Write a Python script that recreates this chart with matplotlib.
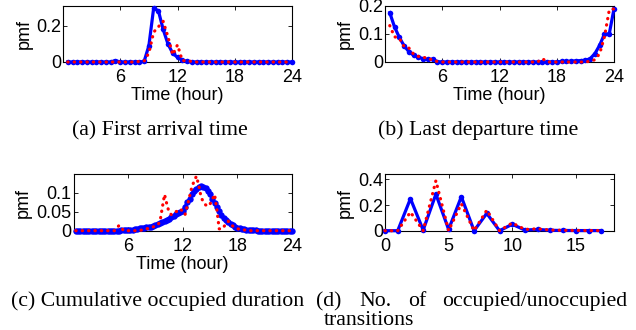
import numpy as np
import matplotlib
matplotlib.use('Agg')
import matplotlib.pyplot as plt

plt.rcParams['font.family'] = ['Liberation Sans', 'DejaVu Sans']

# ---------------- data ----------------
# (a) first arrival time, half-hour bins 0.5..24
hours_a = np.arange(1, 49) * 0.5
blue_a = [0, 0, 0, 0, 0, 0, 0, 0, 0, 0,
          0.008, 0, 0, 0, 0, 0, 0.003, 0.09, 0.298, 0.283,
          0.18, 0.10, 0.048, 0.026, 0.01, 0.003, 0, 0, 0, 0,
          0, 0, 0, 0, 0, 0, 0, 0, 0, 0,
          0, 0, 0, 0, 0, 0, 0, 0]
red_a = [0, 0, 0, 0, 0, 0, 0, 0, 0, 0,
         0, 0, 0, 0, 0, 0.003, 0.005, 0.05, 0.165, 0.195,
         0.225, 0.14, 0.04, 0.095, 0.008, 0.006, 0.003, 0, 0, 0,
         0, 0, 0, 0, 0, 0, 0, 0, 0, 0,
         0, 0, 0, 0, 0, 0, 0, 0]

# (b) last departure time, half-hour bins 0.5..24
hours_b = np.arange(1, 49) * 0.5
blue_b = [0.176, 0.125, 0.088, 0.058, 0.037, 0.024, 0.017, 0.012, 0.009, 0.01,
          0.001, 0, 0, 0, 0, 0, 0, 0, 0, 0,
          0, 0, 0, 0, 0, 0, 0, 0, 0, 0,
          0, 0, 0, 0, 0, 0, 0.002, 0.002, 0.003, 0.004,
          0.005, 0.006, 0.012, 0.03, 0.06, 0.1, 0.1, 0.19]
red_b = [0.13, 0.09, 0.085, 0.055, 0.05, 0.028, 0.02, 0.016, 0.015, 0.005,
         0.002, 0, 0, 0, 0, 0, 0, 0, 0, 0,
         0, 0, 0, 0, 0, 0, 0, 0, 0, 0,
         0, 0, 0.012, 0, 0, 0, 0, 0, 0, 0,
         0, 0, 0.003, 0.008, 0.03, 0.09, 0.185, 0.19]

# (c) cumulative occupied duration, 15-minute bins 0.25..24
hours_c = np.arange(1, 97) * 0.25
blue_c = [0, 0, 0, 0,  0, 0, 0, 0,  0, 0, 0, 0,  0, 0, 0, 0,
          0, 0, 0, 0,
          0.001, 0.001, 0.001, 0.002,
          0.002, 0.003, 0.004, 0.005,
          0.006, 0.007, 0.008, 0.009,
          0.010, 0.011, 0.013, 0.015,
          0.017, 0.019, 0.022, 0.025,
          0.029, 0.032, 0.036, 0.039,
          0.043, 0.047, 0.050, 0.052,
          0.062, 0.075, 0.082, 0.095,
          0.105, 0.110, 0.114, 0.116,
          0.115, 0.112, 0.104, 0.095,
          0.084, 0.073, 0.062, 0.051,
          0.040, 0.033, 0.027, 0.022,
          0.017, 0.014, 0.011, 0.008,
          0.006, 0.005, 0.004, 0.003,
          0.002, 0.002, 0.001, 0.001,
          0, 0, 0, 0,  0, 0, 0, 0,  0, 0, 0, 0,  0, 0, 0, 0]
red_c = [0, 0, 0, 0,  0, 0, 0, 0,  0, 0, 0, 0,  0, 0, 0, 0,
         0, 0, 0.006, 0.014,
         0.008, 0, 0, 0,
         0, 0, 0, 0,
         0, 0.002, 0.003, 0.005,
         0.006, 0.008, 0.010, 0.012,
         0.015, 0.024, 0.06, 0.095,
         0.07, 0.048, 0.042, 0.045,
         0.05, 0.052, 0.057, 0.05,
         0.042, 0.065, 0.09, 0.115,
         0.13, 0.143, 0.12, 0.09,
         0.075, 0.068, 0.064, 0.07,
         0.082, 0.095, 0.055, 0.005,
         0.004, 0.01, 0.018, 0.025,
         0.018, 0.012, 0.008, 0.005,
         0.004, 0.003, 0.002, 0.001,
         0, 0, 0, 0,
         0, 0, 0, 0,  0, 0, 0, 0,  0, 0, 0, 0,  0, 0, 0, 0]

# (d) number of occupied/unoccupied transitions
trans_d = np.arange(0, 18)
blue_d = [0, 0, 0.25, 0.005, 0.285, 0.01, 0.265, 0.0, 0.135, 0.0,
          0.05, 0.005, 0.01, 0.003, 0.002, 0.001, 0.001, 0.001]
red_d = [0, 0, 0.145, 0.0, 0.39, 0.0, 0.21, 0.0, 0.16, 0.0,
         0.06, 0.01, 0.015, 0.005, 0.003, 0.002, 0.001, 0.001]

captions = ['(a) First arrival time', '(b) Last departure time',
            '(c) Cumulative occupied duration']

# ---------------- figure ----------------
W, H = 636, 330
fig = plt.figure(figsize=(W / 100, H / 100), dpi=100)


def ax_at(l, t, r, b):
    return fig.add_axes([l / W, 1 - b / H, (r - l) / W, (b - t) / H])


FS = 13


def draw(ax, x, blue, red, ms=4.0):
    ax.plot(x, blue, '-', color=(0, 0, 1), lw=2.3, marker='o', ms=ms,
            mec='none', mfc=(0, 0, 1), clip_on=False, zorder=3)
    ax.plot(x, red, color=(1, 0, 0), lw=2.3, linestyle=(0, (0.1, 1.9)),
            dash_capstyle='round', clip_on=False, zorder=4)


def style(ax, xlim, ylim, xticks, xtl, yticks, ytl, ylab_x, xlabel=True):
    ax.set_xlim(xlim)
    ax.set_ylim(ylim)
    ax.set_xticks(xticks)
    ax.set_xticklabels(xtl)
    ax.set_yticks(yticks)
    ax.set_yticklabels(ytl)
    ax.tick_params(direction='in', length=3, width=0.6, top=True, right=True,
                   labelsize=FS)
    ax.tick_params(axis='x', pad=5)
    ax.tick_params(axis='y', pad=1.5)
    for s in ax.spines.values():
        s.set_linewidth(0.8)
    ax.set_ylabel('pmf', fontsize=FS)
    ax.yaxis.set_label_coords(ylab_x, 0.5)
    if xlabel:
        ax.set_xlabel('Time (hour)', fontsize=FS)
        ax.xaxis.set_label_coords(0.5, -0.44)
        ax.xaxis.label.set_va('top')


ax_a = ax_at(63, 6, 292, 62)
draw(ax_a, hours_a, blue_a, red_a)
style(ax_a, (0, 24), (0, 0.31), [6, 12, 18, 24], ['6', '12', '18', '24'],
      [0, 0.2], ['0', '0.2'], -0.131)

ax_b = ax_at(385, 6, 614, 62)
draw(ax_b, hours_b, blue_b, red_b)
style(ax_b, (0, 24), (0, 0.2), [6, 12, 18, 24], ['6', '12', '18', '24'],
      [0, 0.1, 0.2], ['0', '0.1', '0.2'], -0.135)

ax_c = ax_at(73.5, 174.3, 292, 230.7)
draw(ax_c, hours_c, blue_c, red_c, ms=4.6)
style(ax_c, (0, 24), (0, 0.148), [6, 12, 18, 24], ['6', '12', '18', '24'],
      [0, 0.05, 0.1], ['0', '0.05', '0.1'], -0.19)

ax_d = ax_at(385, 174.3, 614, 230.7)
draw(ax_d, trans_d, blue_d, red_d)
style(ax_d, (0, 18), (0, 0.44), [0, 5, 10, 15], ['0', '5', '10', '15'],
      [0, 0.2, 0.4], ['0', '0.2', '0.4'], -0.135, xlabel=False)

CFS = 15.7
serif = ['Liberation Serif', 'DejaVu Serif']


def cap(x, y, s, ha='center'):
    fig.text(x / W, 1 - y / H, s, ha=ha, va='baseline', fontsize=CFS,
             family=serif)


cap(160, 135, captions[0])
cap(478, 135, captions[1])
cap(158, 306, captions[2])
cap(316, 306, '(d)', ha='left')
cap(359, 306, 'No.', ha='left')
cap(408, 306, 'of', ha='left')
cap(627, 306, 'occupied/unoccupied', ha='right')
cap(324, 325, 'transitions', ha='left')

fig.savefig('out.png', dpi=100)
